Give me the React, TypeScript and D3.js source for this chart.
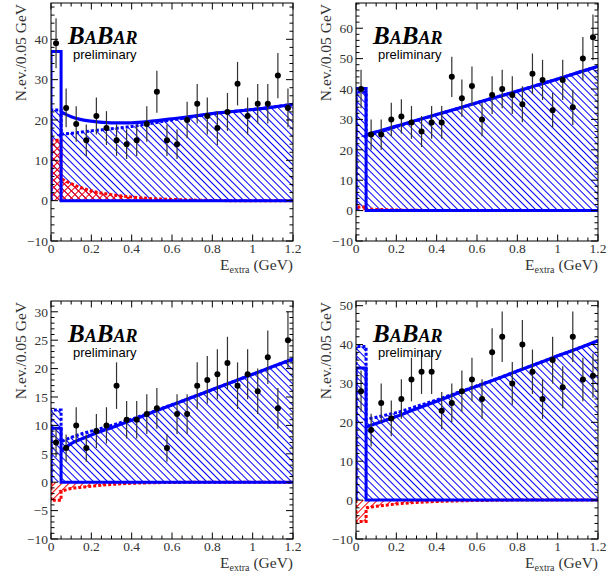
import React from 'react'
import * as d3 from 'd3'

// bin centres of the 0.05 GeV bins
const binCenters = [0.025, 0.075, 0.125, 0.175, 0.225, 0.275, 0.325, 0.375, 0.425, 0.475, 0.525, 0.575,
  0.625, 0.675, 0.725, 0.775, 0.825, 0.875, 0.925, 0.975, 1.025, 1.075, 1.125, 1.175]
// points where the fit curves are sampled
const curveX = [0.05, 0.1, 0.15, 0.2, 0.3, 0.4, 0.5, 0.6, 0.7, 0.8, 0.9, 1.0, 1.1, 1.2]

// panel 1 (top left)
const p1Counts = [39, 23, 19, 15, 21, 18, 15, 14, 15, 19, 27, 15, 14, 20, 24, 21, 18, 22, 29, 21, 24, 24, 31, 23]
const p1Errors = [6.2, 4.8, 4.4, 3.9, 4.6, 4.2, 3.9, 3.7, 3.9, 4.4, 5.2, 3.9, 3.7, 4.5, 4.9, 4.6, 4.2, 4.7, 5.4, 4.6, 4.9, 4.9, 5.6, 4.8]
const p1Total = [22, 20.8, 20.1, 19.7, 19.3, 19.3, 19.7, 20.3, 20.9, 21.6, 22.1, 22.6, 23.2, 23.9]
const p1Bkg = [16.5, 16.7, 17.0, 17.3, 17.8, 18.4, 19.2, 20.0, 20.75, 21.55, 22.1, 22.6, 23.2, 23.9]
const p1Sig = [5.5, 4.2, 3.2, 2.4, 1.5, 0.9, 0.5, 0.3, 0.15, 0.05, 0, 0, 0, 0]
const p1FirstBin = [37, 22.5, 15] // total, background, signal

// panel 2 (top right)
const p2Counts = [40, 25, 25, 30, 31, 29, 26, 29, 29, 44, 37, 41, 30, 38, 40, 38, 35, 45, 43, 33, 43, 34, 50, 57]
const p2Errors = [6.3, 5, 5, 5.5, 5.6, 5.4, 5.1, 5.4, 5.4, 6.6, 6.1, 6.4, 5.5, 6.2, 6.3, 6.2, 5.9, 6.7, 6.6, 5.7, 6.6, 5.8, 7.1, 7.5]
const p2Total = [25.0, 25.9, 26.8, 27.8, 29.7, 31.6, 33.5, 35.5, 37.4, 39.3, 41.3, 43.3, 45.4, 47.5]
const p2Bkg = [24.5, 25.5, 26.5, 27.6, 29.6, 31.6, 33.5, 35.5, 37.4, 39.3, 41.3, 43.3, 45.4, 47.5]
const p2Sig = [0.5, 0.4, 0.3, 0.2, 0.1, 0, 0, 0, 0, 0, 0, 0, 0, 0]
const p2FirstBin = [40.2, 39, 1.2]

// panel 3 (bottom left)
const p3Counts = [7, 6, 10, 6, 9, 10, 17, 11, 11, 12, 13, 6, 12, 12, 17, 18, 19, 21, 17, 19, 16, 22, 13, 25]
const p3Errors = [2.6, 2.4, 3.2, 2.4, 3, 3.2, 4.1, 3.3, 3.3, 3.5, 3.6, 2.4, 3.5, 3.5, 4.1, 4.2, 4.4, 4.6, 4.1, 4.4, 4, 4.7, 3.6, 5]
const p3Total = [5.5, 6.8, 7.6, 8.3, 9.6, 10.9, 12.25, 13.6, 14.95, 16.3, 17.65, 19.0, 20.35, 21.7]
const p3Bkg = [7.1, 7.9, 8.5, 9.0, 10.0, 11.1, 12.35, 13.65, 14.95, 16.3, 17.65, 19.0, 20.35, 21.7]
const p3Sig = [-1.6, -1.1, -0.9, -0.7, -0.4, -0.2, -0.1, -0.05, 0, 0, 0, 0, 0, 0]
const p3FirstBin = [9.5, 12.7, -3.2]

// panel 4 (bottom right)
const p4Counts = [28, 18, 25, 21, 26, 31, 33, 33, 23, 25, 28, 31, 26, 38, 42, 30, 40, 33, 26, 36, 29, 42, 31, 32]
const p4Errors = [5.3, 4.2, 5, 4.6, 5.1, 5.6, 5.7, 5.7, 4.8, 5, 5.3, 5.6, 5.1, 6.2, 6.5, 5.5, 6.3, 5.7, 5.1, 6, 5.4, 6.5, 5.6, 5.7]
const p4Total = [18.8, 19.7, 20.6, 21.5, 23.5, 25.4, 27.4, 29.3, 31.2, 33.2, 35.1, 37.1, 39.0, 41.0]
const p4Bkg = [20.8, 21.3, 21.9, 22.5, 24.1, 25.75, 27.6, 29.4, 31.25, 33.2, 35.1, 37.1, 39.0, 41.0]
const p4Sig = [-2.0, -1.6, -1.3, -1.0, -0.6, -0.35, -0.2, -0.1, -0.05, 0, 0, 0, 0, 0]
const p4FirstBin = [34, 39.5, -5.5]

const BLUE = '#0000ff'
const RED = '#ff0000'
const SERIF = 'Liberation Serif, DejaVu Serif, serif'
const SANS = 'Liberation Sans, Arial, sans-serif'

const panels = [
  { left: 51, top: 3, yMax: 49, major: 10, minor: 2, counts: p1Counts, errors: p1Errors, total: p1Total, bkg: p1Bkg, sig: p1Sig, first: p1FirstBin, cross: true },
  { left: 356, top: 3, yMax: 68.3, major: 10, minor: 2, counts: p2Counts, errors: p2Errors, total: p2Total, bkg: p2Bkg, sig: p2Sig, first: p2FirstBin, cross: false },
  { left: 51, top: 301, yMax: 31.9, major: 5, minor: 1, counts: p3Counts, errors: p3Errors, total: p3Total, bkg: p3Bkg, sig: p3Sig, first: p3FirstBin, cross: false },
  { left: 356, top: 301, yMax: 51.2, major: 10, minor: 2, counts: p4Counts, errors: p4Errors, total: p4Total, bkg: p4Bkg, sig: p4Sig, first: p4FirstBin, cross: false },
]

const PW = 242
const PH = 238

function Panel({ p, idx }: { p: any; idx: number }) {
  const x = d3.scaleLinear().domain([0, 1.2]).range([p.left, p.left + PW])
  const y = d3.scaleLinear().domain([-10, p.yMax]).range([p.top + PH, p.top])
  const bottom = p.top + PH
  const right = p.left + PW

  const line = d3.line<number>().x((d, i) => x(curveX[i])).y(d => y(d)).curve(d3.curveMonotoneX)
  const area = d3.area<number>().x((d, i) => x(curveX[i])).y0(y(0)).y1(d => y(d)).curve(d3.curveMonotoneX)

  const [s0, b0, r0] = p.first
  const x0 = x(0), x1 = x(0.05)

  const stepPath = (v: number, v1: number) => `M${x0},${y(0)}L${x0},${y(v)}L${x1},${y(v)}L${x1},${y(v1)}`

  const xMajor = x.ticks(6)
  const xMinor = x.ticks(24)
  const yMinor = d3.range(-10, p.yMax + 0.001, p.minor)
  const yMajor = d3.range(-10, p.yMax + 0.001, p.major)
  const fmt = d3.format('~g')
  const clip = `clip${idx}`

  return (
    <g>
      <defs>
        <clipPath id={clip}><rect x={p.left} y={p.top} width={PW} height={PH} /></clipPath>
      </defs>
      <g clipPath={`url(#${clip})`}>
        {/* background hatch */}
        <rect x={x0} width={x1 - x0} y={Math.min(y(0), y(b0))} height={Math.abs(y(0) - y(b0))} fill="url(#blueHatch)" />
        <path d={area(p.bkg) || ''} fill="url(#blueHatch)" />
        {/* signal hatch */}
        <rect x={x0} width={x1 - x0} y={Math.min(y(0), y(r0))} height={Math.abs(y(0) - y(r0))} fill="url(#redHatch)" />
        <path d={area(p.sig) || ''} fill="url(#redHatch)" />
        {p.cross && <>
          <rect x={x0} width={x1 - x0} y={Math.min(y(0), y(r0))} height={Math.abs(y(0) - y(r0))} fill="url(#redHatch2)" />
          <path d={area(p.sig) || ''} fill="url(#redHatch2)" />
        </>}
        {/* dashed outlines */}
        <path d={stepPath(r0, p.sig[0]) + (line(p.sig) || '').replace(/^M/, 'L')} fill="none" stroke={RED} strokeWidth={3} strokeDasharray="3,2" />
        <path d={stepPath(b0, p.bkg[0]) + (line(p.bkg) || '').replace(/^M/, 'L')} fill="none" stroke={BLUE} strokeWidth={3} strokeDasharray="3,2" />
        {/* total fit */}
        <path d={`${stepPath(s0, 0)}L${x(1.2)},${y(0)}`} fill="none" stroke={BLUE} strokeWidth={3} />
        <path d={line(p.total) || ''} fill="none" stroke={BLUE} strokeWidth={3.2} />
        {/* data */}
        {p.counts.map((c: number, i: number) => (
          <g key={i}>
            <line x1={x(binCenters[i])} x2={x(binCenters[i])} y1={y(c - p.errors[i])} y2={y(c + p.errors[i])} stroke="#333" strokeWidth={1.2} />
            <circle cx={x(binCenters[i])} cy={y(c)} r={3} fill="#000" />
          </g>
        ))}
      </g>
      {/* frame */}
      <rect x={p.left} y={p.top} width={PW} height={PH} fill="none" stroke="#000" strokeWidth={1} />
      {xMinor.map((t, i) => {
        const len = xMajor.some(m => Math.abs(m - t) < 1e-6) ? 6.5 : 3.5
        return (
          <g key={'xt' + i}>
            <line x1={x(t)} x2={x(t)} y1={bottom} y2={bottom - len} stroke="#000" />
            <line x1={x(t)} x2={x(t)} y1={p.top} y2={p.top + len} stroke="#000" />
          </g>
        )
      })}
      {yMinor.map((t, i) => {
        const len = yMajor.some(m => Math.abs(m - t) < 1e-6) ? 7 : 3.5
        return (
          <g key={'yt' + i}>
            <line x1={p.left} x2={p.left + len} y1={y(t)} y2={y(t)} stroke="#000" />
            <line x1={right} x2={right - len} y1={y(t)} y2={y(t)} stroke="#000" />
          </g>
        )
      })}
      {xMajor.map((t, i) => (
        <text key={'xl' + i} x={x(t)} y={bottom + 12} textAnchor="middle" fontFamily={SERIF} fontSize={13.5} fill="#333">{fmt(t)}</text>
      ))}
      {yMajor.map((t, i) => (
        <text key={'yl' + i} x={p.left - 3} y={y(t)} dy="0.35em" textAnchor="end" fontFamily={SERIF} fontSize={13.5} fill="#333">{fmt(t)}</text>
      ))}
      <text x={right} y={bottom + 29} textAnchor="end" fontFamily={SERIF} fontSize={15.5} fill="#333">
        E<tspan fontSize={10} dy={3}>extra</tspan><tspan dy={-3}> (GeV)</tspan>
      </text>
      <text transform={`translate(${p.left - 25},${p.top + 1}) rotate(-90)`} textAnchor="end" fontFamily={SERIF} fontSize={15.5} fill="#333">N.ev./0.05 GeV</text>
      {/* BABAR logo */}
      <text x={p.left + 17} y={p.top + 41} fontFamily={SERIF} fontStyle="italic" fontWeight="bold" fill="#000">
        <tspan fontSize={25}>B</tspan><tspan fontSize={18}>A</tspan><tspan fontSize={25}>B</tspan><tspan fontSize={18}>AR</tspan>
      </text>
      <text x={p.left + 22} y={p.top + 56} fontFamily={SANS} fontSize={13} fill="#000">preliminary</text>
    </g>
  )
}

export default function App() {
  return (
    <svg width={612} height={578} style={{ position: 'absolute', left: 0, top: 0, background: '#fff' }}>
      <defs>
        <pattern id="blueHatch" patternUnits="userSpaceOnUse" width={5} height={10} patternTransform="rotate(-45)">
          <line x1={0.5} y1={0} x2={0.5} y2={10} stroke={BLUE} strokeWidth={1} />
        </pattern>
        <pattern id="redHatch" patternUnits="userSpaceOnUse" width={5} height={10} patternTransform="rotate(45)">
          <line x1={0.5} y1={0} x2={0.5} y2={10} stroke={RED} strokeWidth={1} />
        </pattern>
        <pattern id="redHatch2" patternUnits="userSpaceOnUse" width={5} height={10} patternTransform="rotate(-45)">
          <line x1={0.5} y1={0} x2={0.5} y2={10} stroke={RED} strokeWidth={1} />
        </pattern>
      </defs>
      <rect width={612} height={578} fill="#fff" />
      {panels.map((p, i) => <Panel key={i} p={p} idx={i} />)}
    </svg>
  )
}
